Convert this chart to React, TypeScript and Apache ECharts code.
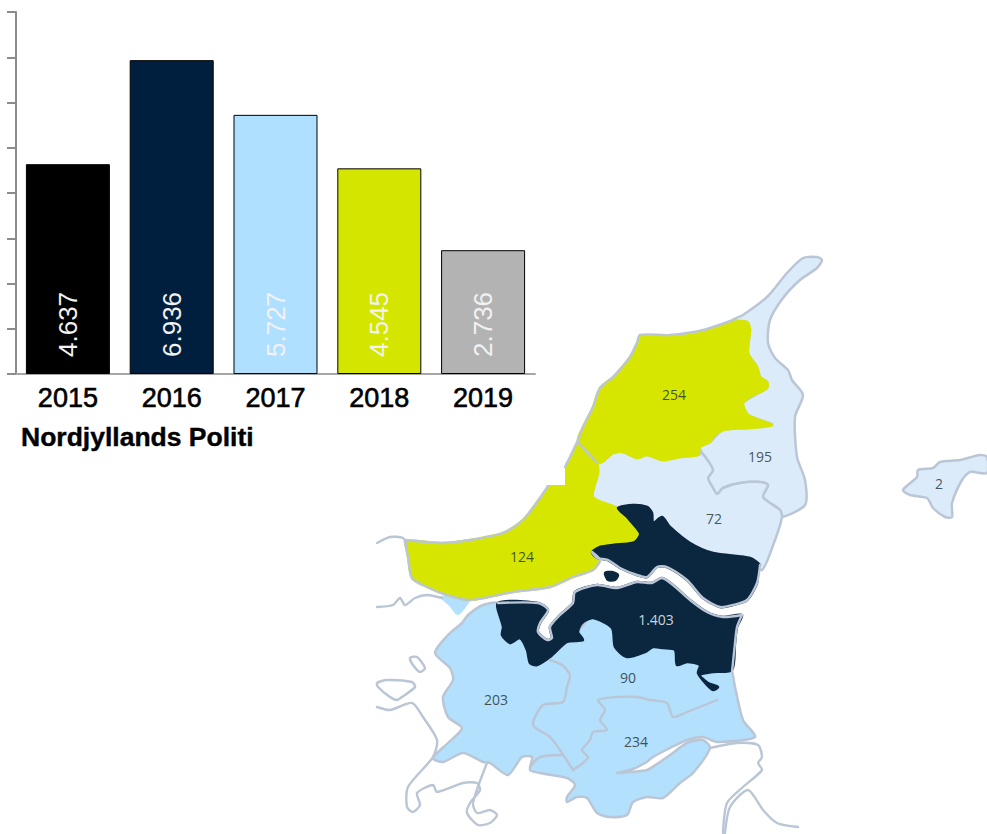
import React, { useEffect, useRef } from "react";
import * as echarts from "echarts";

const years = ["2015", "2016", "2017", "2018", "2019"];
const cases = [4637, 6936, 5727, 4545, 2736];
const caseLabels = ["4.637", "6.936", "5.727", "4.545", "2.736"];
const barColors = ["#000000", "#001f3f", "#b0e0ff", "#d4e600", "#b3b3b3"];

const PALE = "#dcebfa";
const SKY = "#b3e0fc";
const NAVY = "#0b2740";
const LIME = "#d6e600";
const WHITE = "#ffffff";
const SHORE = "#bac6d5";

type Pt = [number, number];

const skagenArea: Pt[] = [[822,260],[817,268],[800,280],[783,298],[770,320],[768,343],[775,358],[788,370],[792,380],[803,395],[795,417],[797,457],[805,480],[805,505],[782,517],[780,510],[763,497],[768,485],[760,482],[740,483],[723,488],[717,494],[713,488],[708,478],[713,470],[702,453],[700,447],[710,442],[723,430],[772,425],[748,415],[743,403],[767,388],[767,382],[760,377],[757,367],[748,353],[750,330],[747,322],[733,320],[743,315],[767,297],[787,273],[803,258],[817,257]];
const area72: Pt[] = [[597,463],[602,462],[613,453],[623,452],[637,458],[647,455],[663,460],[680,457],[698,455],[702,453],[713,470],[708,478],[713,488],[717,494],[723,488],[740,483],[760,482],[768,485],[763,497],[780,510],[782,517],[775,540],[762,570],[750,558],[713,553],[690,543],[670,527],[662,517],[653,523],[652,513],[647,507],[633,505],[618,508],[593,497],[598,473]];
const area254: Pt[] = [[640,337],[670,337],[703,332],[733,322],[747,322],[750,330],[748,353],[757,367],[760,377],[767,382],[767,388],[750,397],[743,403],[748,415],[772,425],[750,428],[723,430],[713,437],[710,442],[700,447],[698,455],[680,457],[663,460],[647,455],[637,458],[623,452],[613,453],[602,462],[597,462],[587,453],[578,440],[583,427],[593,407],[600,388],[613,377],[630,357],[637,343]];
const area124: Pt[] = [[578,443],[597,463],[598,473],[593,497],[617,508],[640,530],[637,540],[632,542],[592,550],[600,560],[593,570],[573,577],[550,587],[513,592],[470,600],[447,595],[427,587],[412,578],[408,557],[405,542],[405,540],[443,543],[470,540],[503,533],[523,520],[540,498],[555,478],[568,462],[573,453]];
const scanPatch: Pt[] = [[530,440],[565,440],[565,485],[530,485]];
const navyNorth: Pt[] = [[618,508],[633,505],[647,507],[652,513],[653,523],[662,517],[670,527],[690,543],[713,553],[750,558],[760,565],[758,567],[757,583],[747,600],[733,605],[720,607],[703,598],[687,580],[667,567],[657,567],[647,577],[637,575],[620,568],[608,560],[597,558],[592,552],[600,547],[613,545],[632,543],[637,540],[640,533],[627,517]];
const navyIsland: Pt[] = [[605,573],[612,572],[618,575],[615,580],[608,580]];
const navySouth: Pt[] = [[498,603],[538,603],[548,610],[540,623],[538,632],[547,640],[552,638],[550,627],[560,615],[573,603],[575,592],[597,585],[617,588],[637,582],[652,583],[662,578],[673,585],[690,600],[707,612],[723,617],[742,615],[737,627],[735,643],[732,670],[713,672],[700,675],[708,683],[718,687],[713,690],[707,685],[698,673],[700,665],[687,662],[677,665],[675,650],[663,648],[653,647],[645,652],[627,657],[615,647],[612,628],[593,618],[582,623],[578,632],[583,640],[567,642],[550,657],[537,665],[530,663],[527,650],[520,638],[510,643],[502,635],[503,627]];
const himmerland: Pt[] = [[498,603],[483,605],[468,615],[462,623],[448,635],[435,653],[450,668],[453,680],[443,697],[448,717],[462,728],[448,743],[433,758],[443,762],[463,753],[483,762],[490,763],[508,775],[522,757],[532,757],[530,770],[540,773],[567,778],[575,785],[567,797],[567,802],[577,797],[587,798],[597,813],[610,817],[627,815],[633,802],[647,797],[663,798],[680,783],[693,773],[710,748],[703,740],[687,743],[670,755],[660,762],[647,770],[630,772],[617,773],[633,769],[645,763],[653,757],[670,748],[687,740],[703,737],[717,742],[755,737],[743,720],[735,687],[732,672],[725,660],[660,640],[600,610],[570,640],[545,648],[525,640],[510,630],[500,615]];
const limfjordBit: Pt[] = [[442,597],[468,600],[468,602],[458,614],[450,605]];
const islandArea: Pt[] = [[903,490],[917,477],[918,470],[933,468],[940,462],[960,460],[980,455],[987,457],[987,473],[970,472],[962,480],[952,503],[952,517],[945,517],[933,508],[927,498],[910,495]];
const smallIslet: Pt[] = [[410,658],[417,657],[425,668],[420,672],[413,665]];
const hookIslet: Pt[] = [[377,683],[387,680],[412,682],[415,687],[402,697],[397,700],[390,697],[378,687]];

const borderA: Pt[] = [[550,660],[562,665],[570,675],[567,687],[563,702],[543,705],[533,725],[550,737],[562,753],[573,770]];
const borderB: Pt[] = [[573,770],[583,763],[588,757],[582,750],[590,740],[593,732],[607,730],[600,720],[605,710],[598,700],[617,697],[637,697],[650,700],[667,703],[673,717],[687,712],[717,700]];
const borderC: Pt[] = [[530,767],[540,757],[563,755]];
const spitNorth: Pt[] = [[377,543],[390,537],[403,538],[407,545]];
const spitSouth: Pt[] = [[377,607],[393,605],[400,598],[405,605],[415,598],[427,595],[442,598]];
const westShore: Pt[] = [[377,707],[390,710],[412,703],[423,717],[437,740],[433,757],[408,787],[407,807],[413,812],[420,805],[417,793],[433,785],[437,792],[463,783],[477,783],[480,790],[470,803],[467,813],[478,825],[490,823],[497,815],[490,810],[477,813],[473,803],[487,763]];
const eastShoreA: Pt[] = [[710,748],[737,743],[758,745],[762,757],[758,763],[762,770],[743,787],[727,803],[723,833]];
const eastShoreB: Pt[] = [[725,833],[730,807],[748,790],[763,810],[777,823],[798,827]];
const coast254: Pt[] = [[565,467],[570,457],[578,440],[583,427],[593,407],[600,388],[613,377],[630,357],[637,343],[640,335],[670,335],[703,330],[733,320]];
const line124to72: Pt[] = [[578,442],[597,463]];
const coast124North: Pt[] = [[405,540],[443,543],[470,540],[503,533],[523,520],[540,498],[548,486]];
const coast124South: Pt[] = [[405,542],[408,557],[412,578],[427,587],[447,595],[470,600],[513,592],[550,587],[573,577],[593,570],[600,560],[592,552]];
const fjordNorth: Pt[] = [[592,552],[597,558],[608,560],[620,568],[637,575],[647,577],[657,567],[667,567],[687,580],[703,598],[720,607],[733,605],[747,600],[757,583],[760,565]];
const fjordSouth: Pt[] = [[498,603],[538,603],[548,610],[540,623],[538,632],[547,640],[552,638],[550,627],[560,615],[573,603],[575,592],[597,585],[617,588],[637,582],[652,583],[662,578],[673,585],[690,600],[707,612],[723,617],[742,615]];
const eastCoastNavy: Pt[] = [[742,615],[737,627],[735,643],[732,672]];

const regions: { pts: Pt[]; fill: string; edge: string; curve: number }[] = [
  { pts: skagenArea, fill: PALE, edge: SHORE, curve: 0.25 },
  { pts: area72, fill: PALE, edge: SHORE, curve: 0.25 },
  { pts: limfjordBit, fill: SKY, edge: SKY, curve: 0.25 },
  { pts: himmerland, fill: SKY, edge: SHORE, curve: 0.25 },
  { pts: area124, fill: LIME, edge: LIME, curve: 0.25 },
  { pts: scanPatch, fill: WHITE, edge: WHITE, curve: 0 },
  { pts: area254, fill: LIME, edge: LIME, curve: 0.25 },
  { pts: navyNorth, fill: NAVY, edge: NAVY, curve: 0.25 },
  { pts: navyIsland, fill: NAVY, edge: NAVY, curve: 0.25 },
  { pts: navySouth, fill: NAVY, edge: NAVY, curve: 0.25 },
  { pts: islandArea, fill: PALE, edge: SHORE, curve: 0.25 },
  { pts: smallIslet, fill: WHITE, edge: SHORE, curve: 0.25 },
  { pts: hookIslet, fill: WHITE, edge: SHORE, curve: 0.25 },
];
const shoreLines: Pt[][] = [borderA, borderB, borderC, spitNorth, spitSouth, westShore, eastShoreA, eastShoreB, coast254, line124to72, coast124North, coast124South, fjordNorth, fjordSouth, eastCoastNavy];

const mapNames = ["254", "195", "2", "72", "124", "1.403", "90", "203", "234"];
const mapSpots: Pt[] = [[674,394],[760,456],[939,483],[714,518],[522,556],[656,619],[628,677],[496,699],[636,741]];

export default function App() {
  const ref = useRef<HTMLDivElement>(null);
  useEffect(() => {
    const chart = echarts.init(ref.current!, null, { renderer: "svg" });
    const font = "'Liberation Sans', Arial, sans-serif";
    const regionIdx = regions.map((_, i) => i);
    const lineIdx = shoreLines.map((_, i) => i);
    chart.setOption({
      animation: false,
      backgroundColor: "#ffffff",
      grid: [
        { left: 16, top: 12, width: 519, height: 362 },
        { left: 0, top: 0, width: 987, height: 834 },
      ],
      xAxis: [
        {
          type: "category",
          data: years,
          gridIndex: 0,
          axisLine: { lineStyle: { color: "#a6a6a6", width: 2 } },
          axisTick: { show: false },
          axisLabel: { fontFamily: font, fontSize: 27, color: "#000", margin: 10, textBorderColor: "#000", textBorderWidth: 0.6 },
        },
        { type: "value", gridIndex: 1, min: 0, max: 987, show: false },
      ],
      yAxis: [
        {
          type: "value",
          gridIndex: 0,
          min: 0,
          max: 8000,
          interval: 1000,
          splitLine: { show: false },
          axisLine: { show: true, lineStyle: { color: "#8c8c8c", width: 2 } },
          axisTick: { show: true, length: 9, lineStyle: { color: "#8c8c8c", width: 2 } },
          axisLabel: { show: false },
        },
        { type: "value", gridIndex: 1, min: 0, max: 834, inverse: true, show: false },
      ],
      title: {
        text: "Nordjyllands Politi",
        left: 16,
        top: 418,
        textStyle: { fontFamily: font, fontSize: 26.5, fontWeight: "bold", color: "#000", textBorderColor: "#000", textBorderWidth: 0.4 },
      },
      series: [
        {
          type: "custom",
          xAxisIndex: 1,
          yAxisIndex: 1,
          data: regionIdx,
          z: 1,
          silent: true,
          clip: false,
          renderItem: (params: any, api: any) => {
            const r = regions[params.dataIndex];
            return {
              type: "polygon",
              shape: { points: r.pts.map((p) => api.coord(p)), smooth: r.curve },
              style: { fill: r.fill, stroke: r.edge, lineWidth: r.curve ? 2.5 : 0, lineJoin: "round" },
            };
          },
        },
        {
          type: "custom",
          xAxisIndex: 1,
          yAxisIndex: 1,
          data: lineIdx,
          z: 2,
          silent: true,
          clip: false,
          renderItem: (params: any, api: any) => ({
            type: "polyline",
            shape: { points: shoreLines[params.dataIndex].map((p) => api.coord(p)), smooth: 0.25 },
            style: { fill: "none", stroke: SHORE, lineWidth: 2.4, lineJoin: "round", lineCap: "round" },
          }),
        },
        {
          type: "scatter",
          xAxisIndex: 1,
          yAxisIndex: 1,
          symbolSize: 0,
          z: 3,
          silent: true,
          data: mapSpots.map((p, i) => ({
            value: p,
            name: mapNames[i],
            label: { color: mapNames[i] === "1.403" ? "#ffffff" : "#1c2b33" },
          })),
          label: {
            show: true,
            position: "inside",
            formatter: (p: any) => p.name,
            fontFamily: "'Open Sans', sans-serif",
            fontSize: 14,
          },
          labelLayout: { hideOverlap: false },
          emphasis: { disabled: true },
        },
        {
          type: "bar",
          xAxisIndex: 0,
          yAxisIndex: 0,
          barWidth: 84,
          z: 4,
          silent: true,
          data: cases.map((v, i) => ({
            value: v,
            itemStyle: { color: barColors[i], borderColor: "#000", borderWidth: 1 },
          })),
          label: {
            show: true,
            position: "insideBottom",
            rotate: 90,
            align: "left",
            verticalAlign: "middle",
            distance: 17,
            fontFamily: font,
            fontSize: 26,
            color: "#f2f2f2",
            formatter: (p: any) => caseLabels[p.dataIndex],
          },
        },
      ],
    });
    return () => chart.dispose();
  }, []);
  return <div ref={ref} style={{ position: "absolute", left: 0, top: 0, width: 987, height: 834 }} />;
}
